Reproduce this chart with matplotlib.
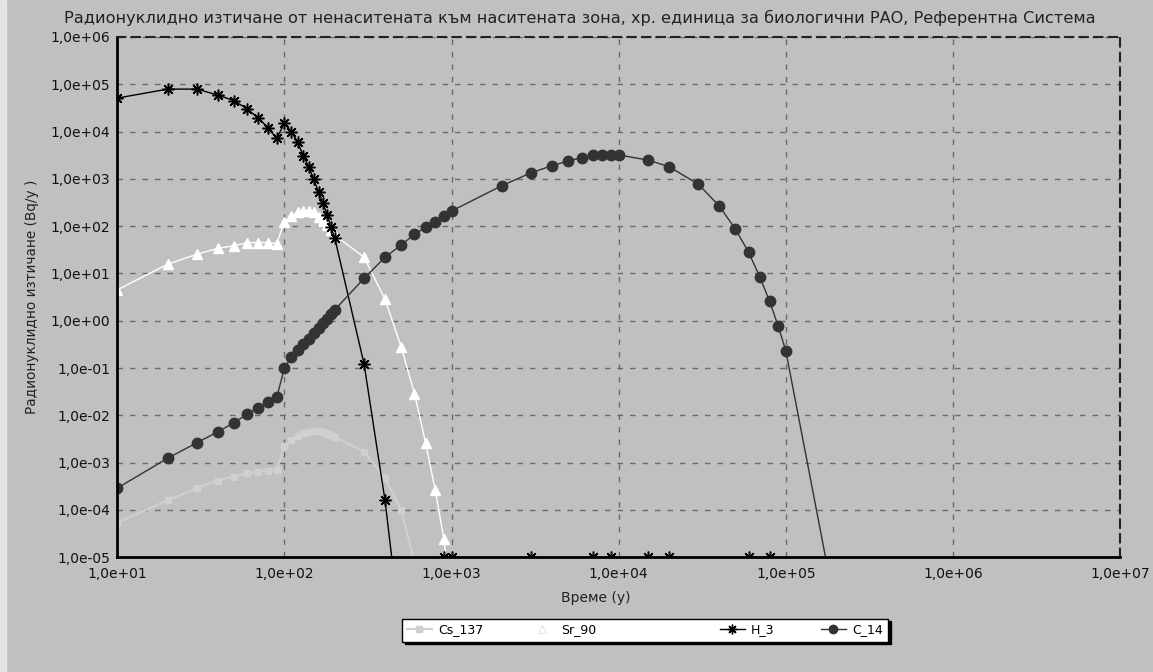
import matplotlib
matplotlib.use("Agg")
import matplotlib.pyplot as plt
from matplotlib.lines import Line2D
from matplotlib.patches import Rectangle
from matplotlib.ticker import FuncFormatter, NullLocator

# data (years, Bq/y)
cs_t = [10, 20, 30, 40, 50, 60, 70, 80, 90, 100, 110, 120, 130, 140, 150,
        160, 170, 180, 190, 200, 300, 400, 500, 600]
cs_137 = [5.4e-5, 1.6e-4, 2.9e-4, 4.2e-4, 5.1e-4, 6.0e-4, 6.4e-4, 6.8e-4, 7.0e-4,
          2.2e-3, 3.0e-3, 3.7e-3, 4.2e-3, 4.5e-3, 4.6e-3, 4.6e-3, 4.4e-3, 4.1e-3,
          3.8e-3, 3.5e-3, 1.7e-3, 4.7e-4, 1.0e-4, 8e-6]

sr_t = [10, 20, 30, 40, 50, 60, 70, 80, 90, 100, 110, 120, 130, 140, 150,
        160, 170, 180, 190, 200, 300, 400, 500, 600, 700, 800, 900, 1000]
sr_90 = [4.5, 15.7, 25.5, 34, 38.7, 45, 45, 45, 43, 124, 165, 195, 210, 210, 195,
         160, 130, 105, 85, 65, 22, 2.85, 0.28, 0.029, 2.6e-3, 2.6e-4, 2.4e-5, 1e-6]

h3_t = [10, 20, 30, 40, 50, 60, 70, 80, 90, 100, 110, 120, 130, 140, 150,
        160, 170, 180, 190, 200, 300, 400, 500]
h_3 = [5.1e4, 7.9e4, 7.9e4, 5.9e4, 4.5e4, 3.0e4, 1.9e4, 1.2e4, 7.2e3, 1.5e4, 1.0e4,
       6.0e3, 3.0e3, 1.8e3, 970, 530, 315, 173, 96, 57, 0.12, 1.6e-4, 2e-7]
# H_3 points below the axis floor, drawn on the floor
h3_floor_t = [900, 1000, 3000, 7000, 9000, 15000, 20000, 60000, 80000]

c14_t = [10, 20, 30, 40, 50, 60, 70, 80, 90, 100, 110, 120, 130, 140, 150,
         160, 170, 180, 190, 200, 300, 400, 500, 600, 700, 800, 900, 1000,
         2000, 3000, 4000, 5000, 6000, 7000, 8000, 9000, 10000, 15000, 20000,
         30000, 40000, 50000, 60000, 70000, 80000, 90000, 100000, 200000]
c_14 = [2.9e-4, 1.24e-3, 2.65e-3, 4.5e-3, 7.0e-3, 0.0107, 0.0146, 0.0195, 0.024,
        0.1, 0.17, 0.24, 0.32, 0.42, 0.55, 0.70, 0.88, 1.1, 1.4, 1.7,
        7.9, 22, 40, 67, 95, 124, 164, 209,
        718, 1350, 1900, 2390, 2800, 3200, 3200, 3200, 3200, 2500, 1810,
        770, 267, 86, 28, 8.3, 2.6, 0.78, 0.233, 7e-7]

x_ticks = [1e1, 1e2, 1e3, 1e4, 1e5, 1e6, 1e7]
y_ticks = [1e-5, 1e-4, 1e-3, 1e-2, 1e-1, 1e0, 1e1, 1e2, 1e3, 1e4, 1e5, 1e6]

title = ("Радионуклидно изтичане от ненаситената към наситената зона, "
         "хр. единица за биологични РАО, Референтна Система")

BG = "#c0c0c0"
plt.rcParams["font.family"] = ["DejaVu Sans"]

fig = plt.figure(figsize=(11.53, 6.72), dpi=100, facecolor=BG)
fig.patches.append(Rectangle((0, 0), 6 / 1153, 1, transform=fig.transFigure,
                             color="#e4e4e4", zorder=0))
ax = fig.add_axes([0.1017, 0.1707, 0.8697, 0.7743], facecolor=BG)
ax.set_xscale("log")
ax.set_yscale("log")
ax.set_xlim(10, 1e7)
ax.set_ylim(1e-5, 1e6)

ax.plot(cs_t, cs_137, color="#d0d0d0", lw=1.5, marker="s", ms=5, mec="#d0d0d0")
ax.plot(sr_t, sr_90, color="white", lw=1, marker="^", ms=7, mec="white")
ax.plot(h3_t, h_3, color="black", lw=1, marker=(8, 2, 0), ms=8.5, mew=1.1)
ax.plot(h3_floor_t, [1e-5] * len(h3_floor_t), ls="none", color="black",
        marker=(8, 2, 0), ms=8.5, mew=1.1)
ax.plot(c14_t, c_14, color="#333333", lw=1, marker="o", ms=7.5, mec="#333333")

fmt = FuncFormatter(lambda v, p: ("%.1e" % v).replace(".", ","))
ax.set_xticks(x_ticks)
ax.set_yticks(y_ticks)
ax.xaxis.set_minor_locator(NullLocator())
ax.yaxis.set_minor_locator(NullLocator())
ax.xaxis.set_major_formatter(fmt)
ax.yaxis.set_major_formatter(fmt)
ax.tick_params(length=0, labelsize=10, colors="#111111")
ax.tick_params(axis="x", pad=7)
ax.tick_params(axis="y", pad=5)

ax.grid(True, color="#6a6a6a", lw=1, ls=(0, (4, 5)))
for s in ["left", "bottom"]:
    ax.spines[s].set_linewidth(2)
    ax.spines[s].set_color("black")
for s in ["top", "right"]:
    ax.spines[s].set_linewidth(1.5)
    ax.spines[s].set_linestyle((0, (4, 3)))
    ax.spines[s].set_color("#222222")

fig.text(0.503, 0.973, title, ha="center", va="center", fontsize=11.6, color="#222222")
fig.text(0.517, 0.11, "Време (y)", ha="center", va="center", fontsize=10,
         color="#222222")
ax.set_ylabel("Радионуклидно изтичане (Bq/y )", fontsize=9.8, color="#222222",
              labelpad=8)

handles = [
    Line2D([], [], color="#d0d0d0", lw=1.5, marker="s", ms=5),
    Line2D([], [], color="white", lw=1, marker="^", ms=6, mec="#e8e8e8"),
    Line2D([], [], color="white", lw=0),
    Line2D([], [], color="black", lw=1, marker=(8, 2, 0), ms=7),
    Line2D([], [], color="#333333", lw=1, marker="o", ms=6),
]
labels = ["Cs_137", "Sr_90", "", "H_3", "C_14"]
leg = fig.legend(handles, labels, loc="center", bbox_to_anchor=(0.5594, 0.0625),
                 ncol=5, fontsize=9, frameon=True, fancybox=False,
                 shadow={"color": "black", "alpha": 1}, handlelength=2,
                 columnspacing=3.7, borderpad=0.4, handletextpad=0.5)
leg.get_frame().set_edgecolor("black")
leg.get_frame().set_linewidth(1)
leg.get_frame().set_facecolor("white")

fig.savefig("out.png", dpi=100, facecolor=BG)
